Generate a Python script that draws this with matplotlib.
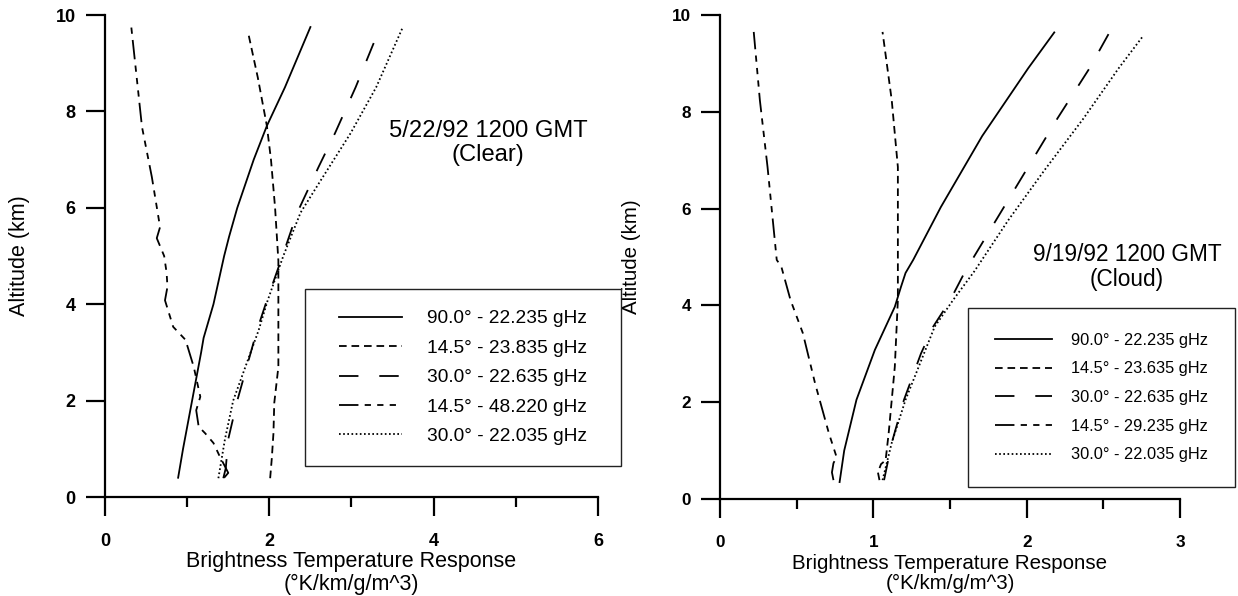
import matplotlib
matplotlib.use('Agg')
from matplotlib import pyplot as plt
from matplotlib.patches import Rectangle

plt.rcParams['font.family'] = ['Liberation Sans', 'DejaVu Sans']
plt.rcParams['lines.scale_dashes'] = False

# 5/22/92 clear case: altitude (km) and response for each channel
clear_solid_alt = [0.4, 1.0, 2.0, 3.0, 3.3, 4.0, 5.0, 5.4, 6.0, 7.0, 7.7, 8.5, 9.75]
clear_solid = [0.89, 0.95, 1.06, 1.17, 1.2, 1.32, 1.45, 1.51, 1.61, 1.81, 1.97, 2.19, 2.5]
clear_short_alt = [0.39, 0.8, 1.32, 1.95, 2.7, 3.5, 4.1, 4.9, 6.0, 7.0, 7.7, 8.7, 9.65]
clear_short = [2.01, 2.03, 2.05, 2.06, 2.11, 2.11, 2.11, 2.11, 2.07, 2.02, 1.97, 1.86, 1.74]
clear_long_alt = [0.39, 0.6, 1.2, 2.0, 3.46, 4.08, 5.0, 5.9, 6.85, 7.55, 8.5, 9.75]
clear_long = [1.44, 1.47, 1.5, 1.61, 1.85, 1.97, 2.16, 2.34, 2.6, 2.8, 3.05, 3.35]
clear_dashdot_alt = [0.4, 0.5, 0.7, 0.83, 1.12, 1.32, 1.46, 1.8, 2.08, 2.7, 3.26, 3.53,
                     4.08, 4.36, 4.65, 5.0, 5.37, 5.6, 6.64, 7.68, 9.75]
clear_dashdot = [1.45, 1.5, 1.44, 1.40, 1.32, 1.22, 1.14, 1.11, 1.16, 1.08, 0.98, 0.83,
                 0.73, 0.76, 0.75, 0.72, 0.63, 0.67, 0.57, 0.45, 0.32]
clear_dot_alt = [0.39, 1.2, 2.0, 3.46, 4.08, 5.0, 5.9, 6.5, 7.55, 8.5, 9.73]
clear_dot = [1.38, 1.46, 1.56, 1.87, 1.98, 2.17, 2.38, 2.6, 2.99, 3.3, 3.62]

# 9/19/92 cloud case
cloud_solid_alt = [0.35, 1.0, 2.05, 3.08, 3.97, 4.38, 4.67, 4.94, 6.03, 7.5, 8.9, 9.64]
cloud_solid = [0.78, 0.81, 0.89, 1.01, 1.14, 1.18, 1.21, 1.26, 1.44, 1.71, 2.01, 2.18]
cloud_short_alt = [0.39, 0.55, 0.72, 0.8, 1.36, 2.73, 4.11, 4.94, 6.86, 8.24, 9.65]
cloud_short = [1.04, 1.03, 1.05, 1.08, 1.1, 1.14, 1.16, 1.16, 1.16, 1.12, 1.06]
cloud_long_alt = [0.39, 1.16, 2.05, 3.0, 3.56, 4.1, 4.71, 5.76, 6.81, 7.86, 8.9, 9.64]
cloud_long = [1.07, 1.12, 1.2, 1.31, 1.39, 1.5, 1.6, 1.8, 2.0, 2.2, 2.41, 2.54]
cloud_dashdot_alt = [0.39, 0.55, 0.74, 0.87, 1.36, 2.39, 3.43, 4.11, 4.8, 4.94, 6.86, 8.24, 9.65]
cloud_dashdot = [0.74, 0.73, 0.74, 0.76, 0.71, 0.62, 0.54, 0.46, 0.40, 0.37, 0.31, 0.26, 0.22]
cloud_dot_alt = [0.39, 1.16, 2.05, 3.56, 4.11, 4.71, 5.76, 6.81, 7.86, 8.9, 9.57]
cloud_dot = [1.06, 1.12, 1.21, 1.4, 1.52, 1.66, 1.88, 2.12, 2.37, 2.6, 2.76]

clear_labels = ['90.0° - 22.235 gHz', '14.5° - 23.835 gHz', '30.0° - 22.635 gHz',
                '14.5° - 48.220 gHz', '30.0° - 22.035 gHz']
cloud_labels = ['90.0° - 22.235 gHz', '14.5° - 23.635 gHz', '30.0° - 22.635 gHz',
                '14.5° - 29.235 gHz', '30.0° - 22.035 gHz']

styles = ['-', (0, (5.5, 3.5)), (0, (14, 15)),
          (0, (14, 4.5, 4.5, 4.5, 4.5, 4.5, 4.5, 4.5)), (0, (1.2, 1.8))]

W, H = 1238, 596
fig = plt.figure(figsize=(W / 100, H / 100), dpi=100)


def px_box(x0, y0, x1, y1):
    # pixel box (top-left origin) -> figure fraction rect
    return [x0 / W, 1 - y1 / H, (x1 - x0) / W, (y1 - y0) / H]


def panel(rect, curves, labels, xmax, xmajor, xminor, scale, ylab_x, note, note_xy, note_fs,
          leg_box, leg_fs, leg_handle, leg_pad, leg_space):
    ax = fig.add_axes(px_box(*rect))
    handles = []
    for (alt, val), ls in zip(curves, styles):
        h, = ax.plot(val, alt, color='black', lw=1.3, linestyle=ls)
        handles.append(h)
    ax.set_xlim(0, xmax)
    ax.set_ylim(0, 10)
    ax.set_xticks(xmajor)
    ax.set_xticks(xminor, minor=True)
    ax.set_yticks([0, 2, 4, 6, 8, 10])
    for s in ['top', 'right']:
        ax.spines[s].set_visible(False)
    for s in ['left', 'bottom']:
        ax.spines[s].set_linewidth(1.6)
    ax.tick_params(axis='both', which='major', direction='out', length=14, width=1.6)
    ax.tick_params(axis='x', which='minor', direction='out', length=7, width=1.6)
    ax.tick_params(axis='y', pad=7)
    ax.tick_params(axis='x', pad=12)
    for t in ax.get_xticklabels() + ax.get_yticklabels():
        t.set_fontweight('bold')
        t.set_fontsize(13 * scale)
    ax.set_xlabel('Brightness Temperature Response\n(°K/km/g/m^3)', fontsize=15.5 * scale,
                  linespacing=1.1)
    ax.xaxis.set_label_coords(0.5, -0.113)
    ax.set_ylabel('Altitude (km)', fontsize=15.5 * scale)
    ax.yaxis.set_label_coords(ylab_x, 0.5)
    ax.text(note_xy[0], note_xy[1], note, transform=ax.transAxes, ha='center', va='center',
            fontsize=note_fs, linespacing=1.15)

    bx0, by0, bx1, by1 = leg_box
    fig.add_artist(Rectangle((bx0 / W, 1 - by1 / H), (bx1 - bx0) / W, (by1 - by0) / H,
                             transform=fig.transFigure, facecolor='white', edgecolor='#222222',
                             lw=1.0, zorder=3))
    leg = fig.legend(handles, labels, loc='center',
                     bbox_to_anchor=((bx0 + bx1) / 2 / W, 1 - (by0 + by1) / 2 / H),
                     frameon=False, fontsize=leg_fs, handlelength=leg_handle,
                     handletextpad=leg_pad, labelspacing=leg_space)
    leg.set_zorder(4)
    return ax


panel((105, 15, 598, 497),
      [(clear_solid_alt, clear_solid), (clear_short_alt, clear_short),
       (clear_long_alt, clear_long), (clear_dashdot_alt, clear_dashdot),
       (clear_dot_alt, clear_dot)],
      clear_labels, 6, [0, 2, 4, 6], [1, 3, 5], 1.0, -0.152,
      '5/22/92 1200 GMT\n(Clear)', ((488 - 105) / 493, (497 - 143) / 482), 17.1,
      (305, 289, 621, 466), 13.8, 3.33, 1.3, 0.63)

panel((720, 15, 1180, 499),
      [(cloud_solid_alt, cloud_solid), (cloud_short_alt, cloud_short),
       (cloud_long_alt, cloud_long), (cloud_dashdot_alt, cloud_dashdot),
       (cloud_dot_alt, cloud_dot)],
      cloud_labels, 3, [0, 1, 2, 3], [0.5, 1.5, 2.5], 0.95, -0.172,
      '9/19/92 1200 GMT\n(Cloud)', ((1127 - 720) / 460, (499 - 267) / 484), 16.3,
      (968, 308, 1235, 487), 11.75, 3.5, 1.17, 0.84)

fig.savefig('out.png', dpi=100)
